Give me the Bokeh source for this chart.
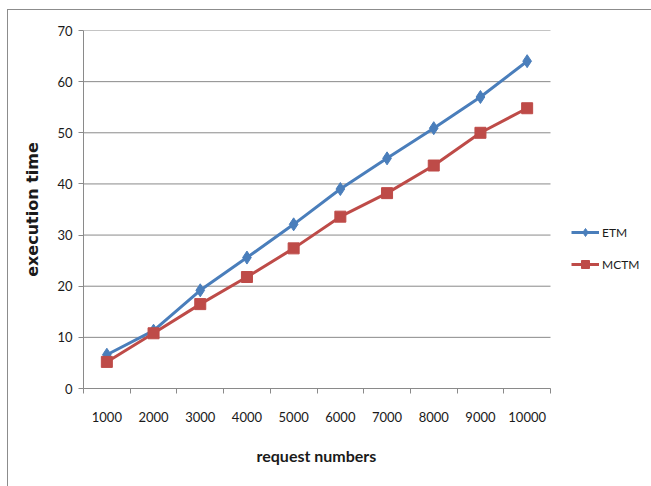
from bokeh.plotting import figure
from bokeh.models import (ColumnDataSource, Range1d, LinearAxis, FixedTicker,
                          Legend, LegendItem, Title)
from bokeh.embed import file_html
from bokeh.resources import INLINE

categories = ["1000", "2000", "3000", "4000", "5000", "6000", "7000", "8000", "9000", "10000"]
etm = [6.6, 11.3, 19.2, 25.6, 32.1, 39.0, 45.0, 50.9, 57.0, 64.0]
mctm = [5.2, 10.8, 16.5, 21.8, 27.4, 33.6, 38.2, 43.6, 50.0, 54.8]
y_ticks = [0, 10, 20, 30, 40, 50, 60, 70]

FONT = "Lato"
GRID = "#8a8a8a"
BLUE = "#4a7ebb"
RED = "#be4b48"
TXT = "#1a1a1a"

N = len(categories)
centers = [i + 0.5 for i in range(N)]
src = ColumnDataSource(dict(x=centers, etm=etm, mctm=mctm))

# plot area spans 467 px for the categories; frame extends further right for the legend
FRAME_W = 565
p = figure(width=644, height=477, x_range=Range1d(0, N * FRAME_W / 467), y_range=Range1d(0, 70),
           output_backend="svg", toolbar_location=None, x_axis_location=None,
           y_axis_location=None,
           min_border_left=75, min_border_top=20, min_border_right=4, min_border_bottom=97)
p.margin = (9, 0, 0, 7)
p.styles = {"border-top": "1px solid #8c8c8c", "border-left": "1px solid #8c8c8c"}
p.outline_line_color = None
p.background_fill_color = "white"
p.border_fill_color = "white"

# y axis
yax = LinearAxis(ticker=FixedTicker(ticks=y_ticks))
yax.axis_label = "execution time"
yax.axis_label_text_font = "DejaVu Sans"
yax.axis_label_text_font_style = "bold"
yax.axis_label_text_font_size = "16px"
yax.axis_label_text_color = TXT
yax.axis_label_standoff = 12
yax.major_label_text_font = FONT
yax.major_label_text_font_size = "13px"
yax.major_label_text_color = TXT
yax.axis_line_color = GRID
yax.major_tick_line_color = GRID
yax.major_tick_out = 5
yax.major_tick_in = 0
yax.minor_tick_line_color = None
yax.major_label_standoff = 6
p.add_layout(yax, "left")

# x tick marks at category boundaries
boundaries = list(range(N + 1))
xt = LinearAxis(ticker=FixedTicker(ticks=boundaries), bounds=(0, N))
xt.major_label_overrides = {i: "" for i in boundaries}
xt.major_label_text_font_size = "1px"
xt.major_label_standoff = 0
xt.axis_line_color = GRID
xt.major_tick_line_color = GRID
xt.major_tick_out = 5
xt.major_tick_in = 0
xt.minor_tick_line_color = None
p.add_layout(xt, "below")

# x category labels at category centres
xc = LinearAxis(ticker=FixedTicker(ticks=centers), bounds=(0, N))
xc.major_label_overrides = {c: cat for c, cat in zip(centers, categories)}
xc.axis_line_color = None
xc.major_tick_line_color = None
xc.minor_tick_line_color = None
xc.major_label_standoff = 12
xc.major_label_text_font = FONT
xc.major_label_text_font_size = "13px"
xc.major_label_text_color = TXT
p.add_layout(xc, "below")

# x axis title, centred under the category span (not the whole frame)
xtitle = Title(text="request numbers", align="left", offset=173, vertical_align="top",
               standoff=42, text_font=FONT, text_font_style="bold",
               text_font_size="16px", text_color=TXT)
p.add_layout(xtitle, "below")

# horizontal gridlines limited to the category span
p.xgrid.visible = False
p.ygrid.visible = False
p.segment(x0=[0] * len(y_ticks), x1=[N] * len(y_ticks), y0=y_ticks, y1=y_ticks,
          line_color=GRID, line_width=1)

l1 = p.line("x", "etm", source=src, color=BLUE, line_width=3)
m1 = p.scatter("x", "etm", source=src, marker="diamond", size=13, color=BLUE)
l2 = p.line("x", "mctm", source=src, color=RED, line_width=3)
m2 = p.scatter("x", "mctm", source=src, marker="square", size=11, color=RED)

legend = Legend(items=[LegendItem(label="ETM", renderers=[l1, m1]),
                       LegendItem(label="MCTM", renderers=[l2, m2])],
                location=(488, 114), orientation="vertical")
legend.border_line_color = None
legend.background_fill_alpha = 0
legend.padding = 0
legend.margin = 0
legend.spacing = 12
legend.glyph_width = 28
legend.glyph_height = 20
legend.label_height = 20
legend.label_standoff = 3
legend.label_text_font = FONT
legend.label_text_font_size = "12px"
legend.label_text_color = TXT
p.add_layout(legend)

open("out.html", "w").write(file_html(p, INLINE))
